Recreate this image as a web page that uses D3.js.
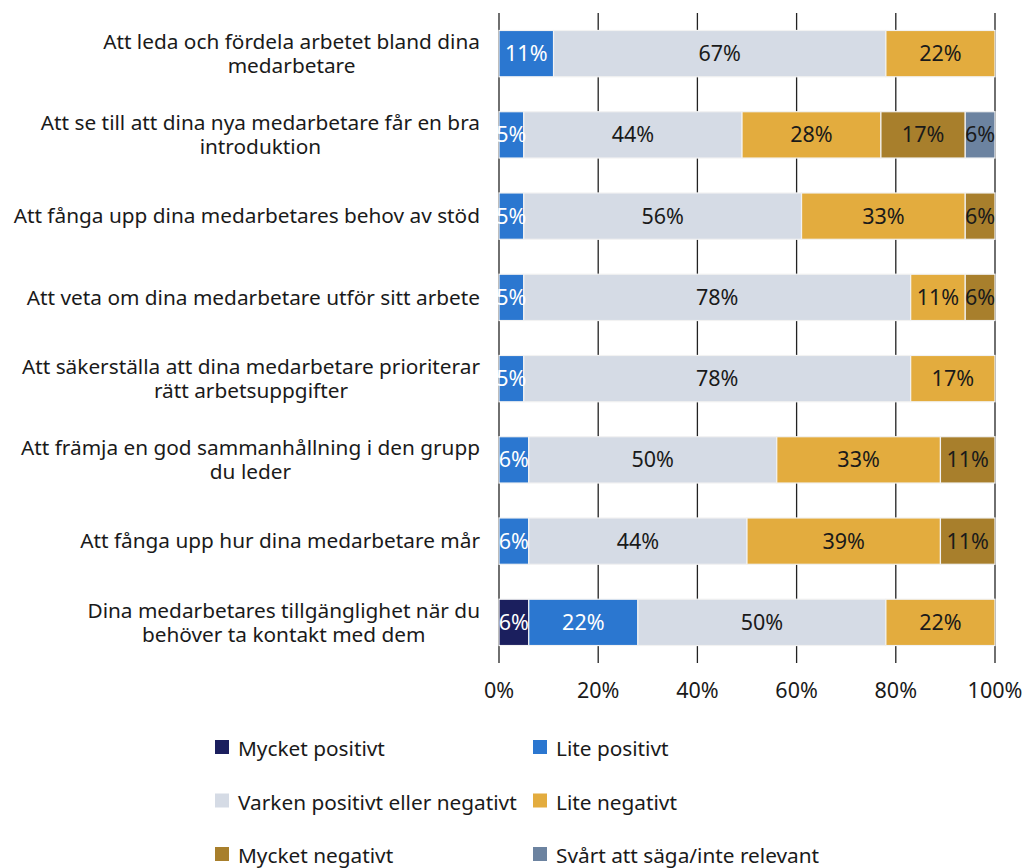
<!DOCTYPE html>
<html>
<head>
<meta charset="utf-8">
<script src="https://cdn.jsdelivr.net/npm/d3@7"></script>
<style>
  body { margin: 0; background: #fff; }
  svg { font-family: "Noto Sans", sans-serif; }
</style>
</head>
<body>
<svg id="drawing_region"></svg>
<script>
// categories (line breaks as in the original labels)
const categories = [
  "Att leda och fördela arbetet bland dina\nmedarbetare",
  "Att se till att dina nya medarbetare får en bra\nintroduktion",
  "Att fånga upp dina medarbetares behov av stöd",
  "Att veta om dina medarbetare utför sitt arbete",
  "Att säkerställa att dina medarbetare prioriterar\nrätt arbetsuppgifter",
  "Att främja en god sammanhållning i den grupp\ndu leder",
  "Att fånga upp hur dina medarbetare mår",
  "Dina medarbetares tillgänglighet när du\nbehöver ta kontakt med dem"
];

const series = [
  "Mycket positivt",
  "Lite positivt",
  "Varken positivt eller negativt",
  "Lite negativt",
  "Mycket negativt",
  "Svårt att säga/inte relevant"
];

// values per series, one per category (percent)
const mycketPositivt = [0, 0, 0, 0, 0, 0, 0, 6];
const litePositivt   = [11, 5, 5, 5, 5, 6, 6, 22];
const varken         = [67, 44, 56, 78, 78, 50, 44, 50];
const liteNegativt   = [22, 28, 33, 11, 17, 33, 39, 22];
const mycketNegativt = [0, 17, 6, 6, 0, 11, 11, 0];
const svartAttSaga   = [0, 6, 0, 0, 0, 0, 0, 0];

const xTicks = [0, 20, 40, 60, 80, 100];

const colors = ["#1b1f5e", "#2b77d0", "#d5dbe5", "#e3ac3e", "#a87f2c", "#6c83a0"];
const labelColors = ["#ffffff", "#ffffff", "#1a1a1a", "#1a1a1a", "#1a1a1a", "#1a1a1a"];

const seriesValues = [mycketPositivt, litePositivt, varken, liteNegativt, mycketNegativt, svartAttSaga];

const table = categories.map((c, i) => {
  const row = { category: c };
  series.forEach((s, j) => { row[s] = seriesValues[j][i]; });
  return row;
});

const width = 1025, height = 868;
const margin = { top: 13, left: 499, right: 30, bottom: 205 };

const svg = d3.select("#drawing_region")
  .attr("width", width)
  .attr("height", height);

const xscale = d3.scaleLinear()
  .domain([0, 100])
  .range([margin.left, margin.left + 496]);

const yscale = d3.scaleBand()
  .domain(categories)
  .range([margin.top, height - margin.bottom])
  .paddingInner(0.43)
  .paddingOuter(0.215);

// gridlines
svg.append("g")
  .selectAll("line")
  .data(xTicks)
  .join("line")
  .attr("x1", d => xscale(d))
  .attr("x2", d => xscale(d))
  .attr("y1", margin.top)
  .attr("y2", height - margin.bottom)
  .attr("stroke", "#222")
  .attr("stroke-width", 1.3);

// x axis tick labels
svg.append("g")
  .selectAll("text")
  .data(xTicks)
  .join("text")
  .attr("x", d => xscale(d))
  .attr("y", 698)
  .attr("text-anchor", "middle")
  .attr("fill", "#1a1a1a")
  .style("font-size", "21.5px")
  .text(d => d + "%");

const stacked = d3.stack().keys(series)(table);

const layers = svg.append("g")
  .selectAll("g")
  .data(stacked)
  .join("g")
  .attr("fill", (d, i) => colors[i]);

layers.selectAll("rect")
  .data(d => d)
  .join("rect")
  .attr("x", d => xscale(d[0]))
  .attr("y", d => yscale(d.data.category))
  .attr("width", d => xscale(d[1]) - xscale(d[0]))
  .attr("height", yscale.bandwidth())
  .attr("stroke", "#f2f2f2")
  .attr("stroke-width", 1.2);

// value labels
stacked.forEach((layer, i) => {
  svg.append("g")
    .selectAll("text")
    .data(layer.filter(d => d[1] - d[0] > 0))
    .join("text")
    .attr("x", d => xscale((d[0] + d[1]) / 2))
    .attr("y", d => yscale(d.data.category) + yscale.bandwidth() / 2)
    .attr("dy", "0.35em")
    .attr("text-anchor", "middle")
    .attr("fill", labelColors[i])
    .style("font-size", "21.5px")
    .text(d => (d[1] - d[0]) + "%");
});

// category labels: lines centred among themselves, block right-aligned
const labelRight = 480;
const catG = svg.append("g");
categories.forEach(c => {
  const lines = c.split("\n");
  const t = catG.append("text")
    .attr("fill", "#1a1a1a")
    .style("font-size", "20.8px")
    .attr("text-anchor", "middle");
  const cy = yscale(c) + yscale.bandwidth() / 2;
  const lh = 24;
  const spans = lines.map((l, k) =>
    t.append("tspan")
      .attr("y", cy + (k - (lines.length - 1) / 2) * lh)
      .attr("dy", "0.35em")
      .text(l));
  const w = d3.max(spans, s => s.node().getComputedTextLength());
  spans.forEach(s => s.attr("x", labelRight - w / 2));
});

// legend
const legend = svg.append("g")
  .selectAll("g")
  .data(series)
  .join("g")
  .attr("transform", (d, i) => `translate(${i % 2 === 0 ? 215 : 533}, ${749 + Math.floor(i / 2) * 53.5})`);

legend.append("rect")
  .attr("x", 0)
  .attr("y", -9)
  .attr("width", 14)
  .attr("height", 14)
  .attr("fill", (d, i) => colors[i]);

legend.append("text")
  .attr("x", 23)
  .attr("y", 0)
  .attr("dy", "0.35em")
  .attr("fill", "#1a1a1a")
  .style("font-size", "20.8px")
  .text(d => d);
</script>
</body>
</html>
